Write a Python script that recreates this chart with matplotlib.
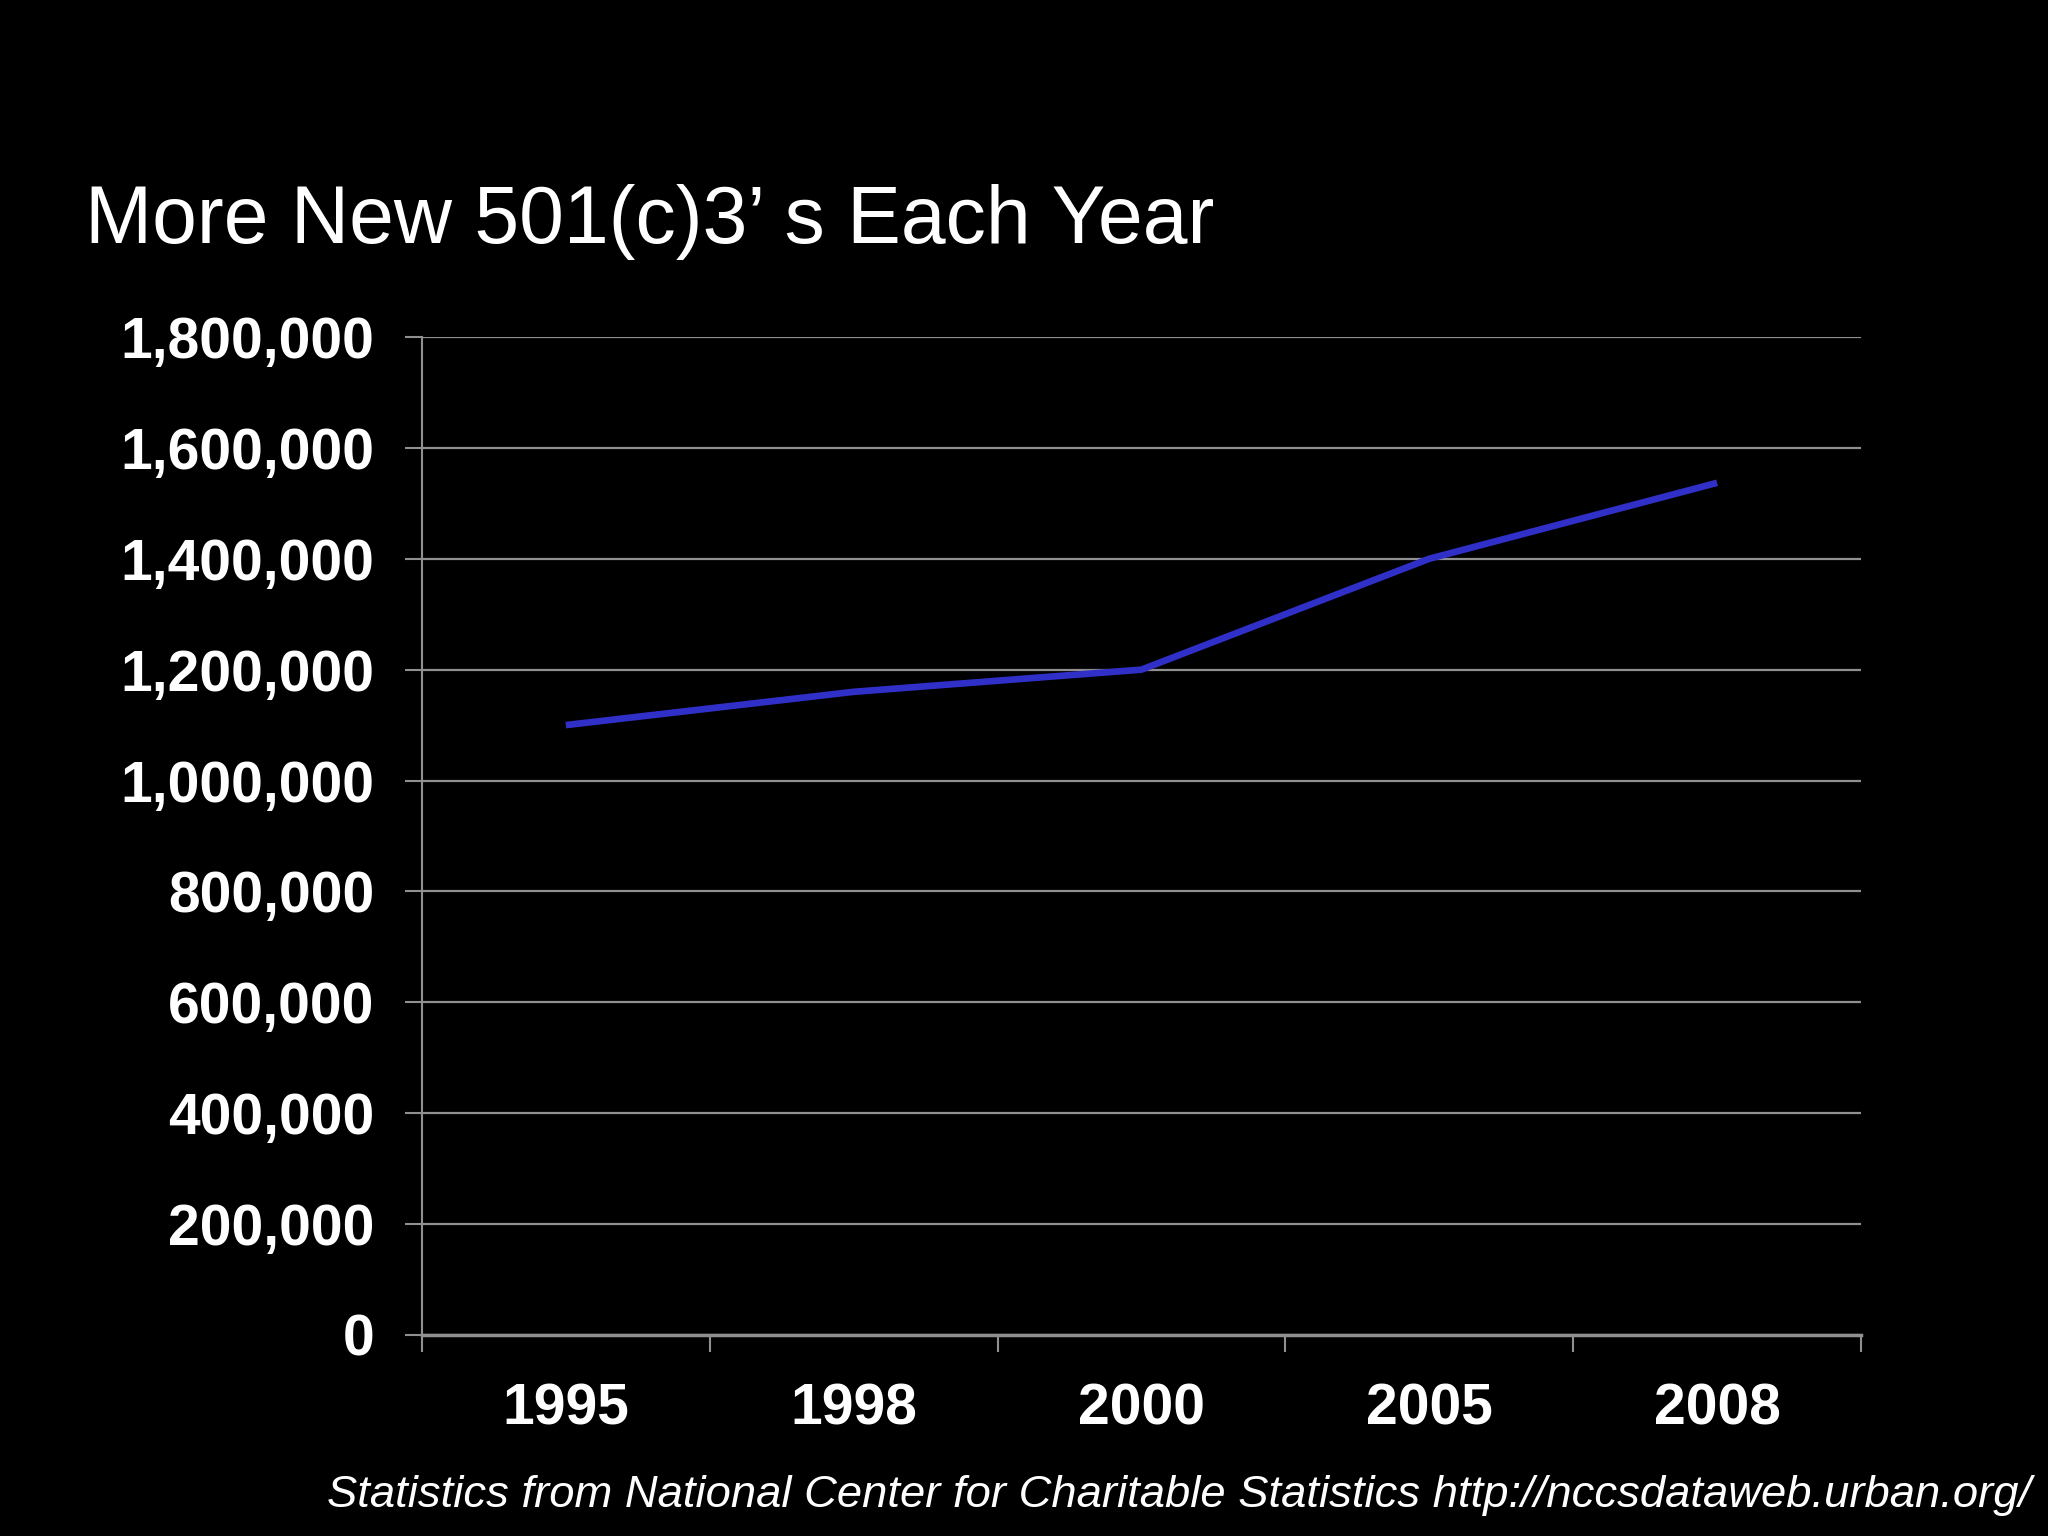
import matplotlib
matplotlib.use("Agg")
import matplotlib.pyplot as plt
from matplotlib.ticker import FuncFormatter, FixedLocator

years = ["1995", "1998", "2000", "2005", "2008"]
counts = [1100000, 1160000, 1200000, 1400000, 1537000]
yticks = [0, 200000, 400000, 600000, 800000, 1000000, 1200000, 1400000, 1600000, 1800000]

title = "More New 501(c)3\u2019 s Each Year"
footer = "Statistics from National Center for Charitable Statistics http://nccsdataweb.urban.org/"

plt.rcParams['font.family'] = ['Liberation Sans', 'DejaVu Sans']

fig = plt.figure(figsize=(20.48, 15.36), dpi=100, facecolor='black')
ax = fig.add_axes([0.206, 0.1309, 0.7027, 0.6497])
ax.set_facecolor('black')

x = list(range(len(years)))
ax.plot(x, counts, color='#3030C8', linewidth=4.8, solid_capstyle='butt', zorder=3)

ax.set_xlim(-0.5, len(years) - 0.5)
ax.set_ylim(0, 1800000)

gcol = '#909090'
ax.set_yticks(yticks)
ax.yaxis.set_major_formatter(FuncFormatter(lambda v, p: f"{int(v):,}"))
ax.grid(axis='y', color=gcol, linewidth=1.6, zorder=1)
ax.set_axisbelow(True)

ax.set_xticks(x)
ax.set_xticklabels(years)
ax.xaxis.set_minor_locator(FixedLocator([i - 0.5 for i in range(len(years) + 1)]))

ax.tick_params(axis='x', which='major', length=0, pad=34, labelsize=41, labelcolor='white')
ax.tick_params(axis='x', which='minor', length=12, width=1.5, color=gcol, direction='out')
ax.tick_params(axis='y', which='major', length=12, width=1.5, color=gcol, pad=22,
               labelsize=41, labelcolor='white')
for lab in ax.get_xticklabels() + ax.get_yticklabels():
    lab.set_fontweight('bold')

for s in ['top', 'right']:
    ax.spines[s].set_visible(False)
ax.spines['left'].set_color(gcol)
ax.spines['left'].set_linewidth(1.5)
ax.spines['bottom'].set_color(gcol)
ax.spines['bottom'].set_linewidth(2.5)

fig.text(0.0415, 0.842, title, color='white', fontsize=58, ha='left', va='baseline')
fig.text(0.992, 0.019, footer, color='white', fontsize=32.7, style='italic',
         ha='right', va='baseline')

fig.savefig("out.png", dpi=100, facecolor='black')
